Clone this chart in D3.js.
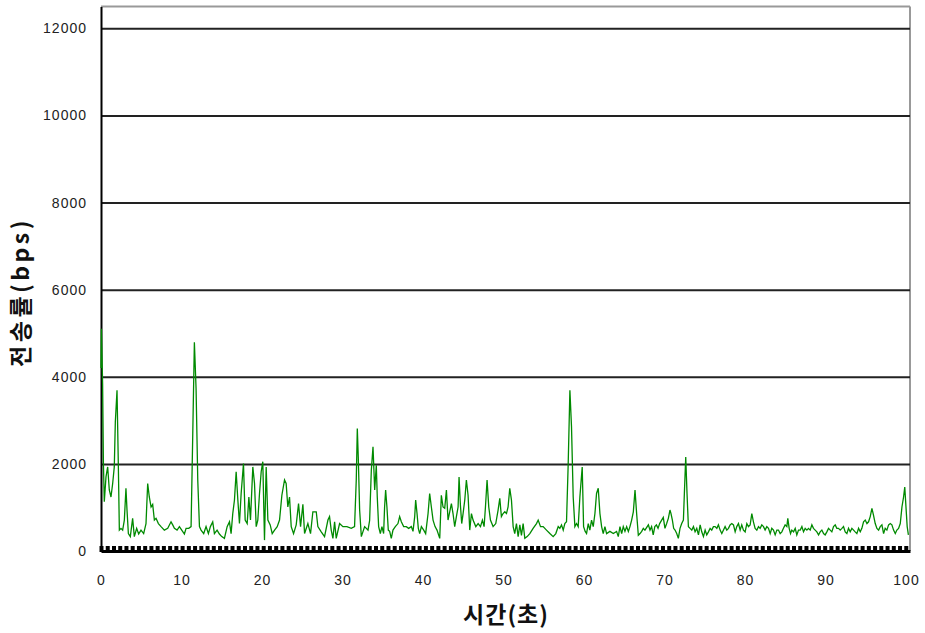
<!DOCTYPE html>
<html>
<head>
<meta charset="utf-8">
<script src="https://cdnjs.cloudflare.com/ajax/libs/d3/7.8.5/d3.min.js"></script>
<style>
  body { margin: 0; background: #fff; }
  .tickText { font-family: "Liberation Sans", Arial, sans-serif; font-size: 14px; fill: #222; letter-spacing: 1px; }
  .axisText { font-family: "Noto Sans CJK KR", sans-serif; font-weight: bold; fill: #111; }
</style>
</head>
<body>
<div id="chart"></div>
<script>
// time (s) and transfer rate (bps)
var seconds = [
  0, 0.05, 0.2, 0.3, 0.41, 0.62, 0.83, 1.03, 1.24, 1.45, 1.65, 1.78, 1.99, 2.15, 2.28, 2.48, 2.69, 2.9, 3.1, 3.23,
  3.4, 3.64, 3.93, 4.14, 4.43, 4.68, 4.97, 5.3, 5.59, 5.8, 6.0, 6.22, 6.42, 6.63, 6.84, 7.13, 7.46, 7.87, 8.29, 8.7,
  8.91, 9.12, 9.45, 9.74, 10.03, 10.36, 10.57, 10.9, 11.19, 11.4, 11.6, 11.81, 12.02, 12.23, 12.43, 12.76, 13.05, 13.34, 13.59, 13.88,
  14.09, 14.42, 14.71, 15.0, 15.33, 15.67, 15.96, 16.16, 16.37, 16.58, 16.79, 17.0, 17.2, 17.41, 17.7, 17.91, 18.16, 18.37, 18.57, 18.86,
  19.07, 19.28, 19.48, 19.69, 19.9, 20.1, 20.31, 20.52, 20.73, 21.02, 21.27, 21.56, 21.89, 22.18, 22.47, 22.8, 23.0, 23.21, 23.42, 23.63,
  23.92, 24.25, 24.54, 24.79, 25.08, 25.29, 25.7, 26.03, 26.32, 26.74, 26.94, 27.36, 27.77, 28.19, 28.39, 28.6, 28.81, 29.02, 29.22, 29.64,
  30.05, 30.55, 31.09, 31.5, 31.71, 31.84, 31.96, 32.13, 32.34, 32.75, 33.17, 33.37, 33.58, 33.79, 34.0, 34.2, 34.32, 34.49, 34.7, 34.9,
  35.11, 35.23, 35.36, 35.52, 35.69, 35.86, 36.06, 36.27, 36.56, 36.89, 37.1, 37.31, 37.6, 37.93, 38.22, 38.55, 38.76, 38.97, 39.09, 39.26,
  39.42, 39.59, 39.8, 40.09, 40.33, 40.63, 40.83, 41.04, 41.25, 41.5, 41.74, 42.08, 42.28, 42.49, 42.7, 42.91, 43.11, 43.32, 43.53, 43.73,
  43.94, 44.15, 44.36, 44.48, 44.65, 44.81, 44.98, 45.19, 45.39, 45.6, 45.81, 46.02, 46.22, 46.56, 46.85, 47.14, 47.38, 47.59, 47.76, 47.96,
  48.17, 48.38, 48.71, 49.04, 49.33, 49.54, 49.74, 49.95, 50.16, 50.37, 50.57, 50.78, 50.99, 51.2, 51.4, 51.61, 51.82, 52.03, 52.23, 52.44,
  52.65, 52.94, 53.27, 53.68, 54.1, 54.31, 54.6, 54.93, 55.34, 55.76, 56.17, 56.5, 56.8, 57.0, 57.21, 57.42, 57.62, 57.83, 58.04, 58.25,
  58.45, 58.66, 58.87, 59.07, 59.28, 59.49, 59.78, 59.95, 60.15, 60.32, 60.53, 60.73, 60.94, 61.15, 61.36, 61.56, 61.77, 61.98, 62.19, 62.39,
  62.6, 62.81, 63.22, 63.64, 64.05, 64.26, 64.47, 64.68, 64.88, 65.09, 65.3, 65.51, 65.71, 65.92, 66.13, 66.34, 66.54, 66.75, 66.96, 67.17,
  67.37, 67.57, 68.0, 68.2, 68.4, 68.6, 68.8, 69.0, 69.2, 69.4, 69.65, 69.85, 70.06, 70.27, 70.48, 70.68, 70.81, 70.98, 71.14, 71.31,
  71.52, 71.72, 71.93, 72.14, 72.35, 72.47, 72.64, 72.8, 72.97, 73.18, 73.39, 73.6, 73.8, 74.01, 74.22, 74.43, 74.63, 74.84, 75.05, 75.25,
  75.46, 75.67, 75.87, 76.08, 76.29, 76.5, 76.7, 76.91, 77.12, 77.33, 77.53, 77.74, 77.95, 78.15, 78.36, 78.57, 78.78, 78.98, 79.19, 79.4,
  79.6, 79.81, 80.02, 80.23, 80.43, 80.64, 80.85, 81.05, 81.26, 81.47, 81.68, 81.88, 82.09, 82.3, 82.5, 82.71, 82.92, 83.13, 83.33, 83.54,
  83.75, 83.96, 84.16, 84.37, 84.58, 84.78, 84.99, 85.2, 85.32, 85.49, 85.66, 85.82, 86.03, 86.24, 86.44, 86.65, 86.86, 87.07, 87.27, 87.48,
  87.69, 87.89, 88.1, 88.31, 88.51, 88.72, 88.93, 89.14, 89.34, 89.55, 89.76, 89.96, 90.17, 90.38, 90.59, 90.79, 91.0, 91.21, 91.41, 91.62,
  91.83, 92.04, 92.24, 92.45, 92.66, 92.86, 93.07, 93.28, 93.49, 93.69, 93.9, 94.11, 94.32, 94.52, 94.73, 94.94, 95.15, 95.35, 95.56, 95.77,
  95.97, 96.18, 96.39, 96.6, 96.8, 97.01, 97.22, 97.42, 97.63, 97.84, 98.05, 98.25, 98.46, 98.67, 98.87, 99.08, 99.29, 99.5, 99.7, 99.85,
  100.0, 100.15, 100.3
];

var bps = [
  4200, 5100, 3840, 2010, 1130, 1700, 1930, 1400, 1240, 1550, 1930, 2960, 3690, 2010, 480, 520, 480, 710, 1440, 940,
  400, 330, 750, 330, 520, 390, 480, 400, 630, 1550, 1240, 1010, 1070, 710, 750, 630, 560, 480, 520, 670,
  600, 520, 480, 560, 480, 390, 520, 520, 560, 2690, 4790, 3730, 1630, 560, 480, 400, 560, 400, 560, 670,
  400, 480, 390, 330, 290, 560, 670, 400, 860, 1170, 1820, 1170, 630, 1320, 2010, 710, 630, 1240, 710, 1930,
  1550, 560, 710, 1320, 1820, 2050, 250, 1930, 710, 600, 400, 480, 560, 710, 1280, 1630, 1550, 1010, 1240, 560,
  400, 600, 1090, 560, 1070, 400, 630, 400, 900, 900, 560, 440, 330, 710, 790, 480, 290, 670, 290, 630,
  560, 560, 520, 560, 1630, 2810, 2160, 940, 330, 560, 480, 700, 1850, 2390, 1400, 1970, 1240, 560, 400, 560,
  400, 1010, 1400, 1010, 480, 450, 290, 480, 560, 630, 790, 670, 560, 560, 520, 560, 450, 790, 1170, 860,
  520, 400, 560, 480, 400, 860, 1320, 1010, 710, 560, 480, 290, 1280, 1010, 980, 1400, 710, 900, 1090, 860,
  560, 790, 1010, 1700, 1050, 630, 860, 1170, 1630, 1280, 480, 860, 710, 560, 630, 560, 710, 560, 1010, 1630,
  1010, 710, 560, 630, 940, 1210, 790, 860, 900, 860, 1010, 1440, 1170, 560, 400, 630, 330, 600, 360, 630,
  290, 330, 400, 520, 630, 710, 560, 560, 480, 400, 330, 400, 560, 520, 600, 480, 630, 670, 2010, 3690,
  2850, 1240, 560, 630, 560, 1240, 1930, 560, 450, 400, 630, 480, 710, 560, 860, 1320, 1440, 860, 560, 400,
  560, 400, 450, 400, 450, 330, 560, 400, 560, 450, 560, 450, 560, 710, 900, 1400, 860, 360, 400, 450,
  520, 480, 600, 480, 560, 370, 560, 600, 520, 630, 710, 770, 520, 630, 750, 940, 860, 710, 520, 480,
  400, 290, 520, 630, 710, 1320, 2160, 1320, 560, 520, 480, 560, 440, 520, 370, 600, 440, 330, 480, 370,
  440, 520, 480, 560, 560, 520, 600, 480, 400, 480, 560, 480, 520, 600, 630, 600, 440, 560, 630, 480,
  600, 480, 440, 630, 560, 600, 860, 670, 520, 480, 560, 520, 600, 560, 480, 560, 520, 400, 520, 480,
  370, 480, 480, 400, 440, 520, 600, 560, 750, 520, 400, 480, 440, 520, 370, 480, 480, 560, 440, 520,
  480, 520, 480, 600, 520, 480, 440, 370, 440, 480, 400, 370, 440, 520, 480, 440, 560, 600, 520, 520,
  480, 520, 560, 440, 400, 520, 440, 520, 480, 440, 400, 520, 440, 520, 670, 710, 630, 670, 790, 980,
  820, 630, 520, 480, 560, 600, 400, 520, 480, 600, 630, 600, 480, 400, 480, 520, 630, 1010, 1240, 1470,
  1010, 560, 370
];

var yTicks = [0, 2000, 4000, 6000, 8000, 10000, 12000];
var xLabels = [0, 10, 20, 30, 40, 50, 60, 70, 80, 90, 100];

var svgWidth = 925;
var svgHeight = 633;

var margin = {
  top: 6.5,
  right: 15,
  bottom: 82,
  left: 101
};

var width = svgWidth - margin.left - margin.right;
var height = svgHeight - margin.top - margin.bottom;

var svg = d3.select("#chart")
  .append("svg")
  .attr("width", svgWidth)
  .attr("height", svgHeight);

var chartGroup = svg.append("g")
  .attr("transform", `translate(${margin.left}, ${margin.top})`);

var data = seconds.map(function (s, i) {
  return { t: s, v: bps[i] };
});

// scales
var xScale = d3.scaleLinear()
  .domain([0, 100.5])
  .range([0, width]);

var yScale = d3.scaleLinear()
  .domain([0, 12500])
  .range([height, 0]);

// frame (top and right in gray)
chartGroup.append("line")
  .attr("x1", 0).attr("x2", width)
  .attr("y1", 0).attr("y2", 0)
  .attr("stroke", "#999").attr("stroke-width", 2);
chartGroup.append("line")
  .attr("x1", width).attr("x2", width)
  .attr("y1", 0).attr("y2", height)
  .attr("stroke", "#999").attr("stroke-width", 2);

// gridlines
chartGroup.append("g")
  .call(d3.axisLeft(yScale).tickValues(yTicks.slice(1)).tickSize(-width).tickFormat(""))
  .call(g => g.select(".domain").remove())
  .selectAll("line")
  .attr("stroke", "#222")
  .attr("stroke-width", 2);

// left axis line + labels
var leftAxis = chartGroup.append("g")
  .call(d3.axisLeft(yScale).tickValues(yTicks).tickSize(0).tickPadding(14).tickFormat(d3.format("d")));
leftAxis.select(".domain")
  .attr("stroke", "#000")
  .attr("stroke-width", 2);
leftAxis.selectAll("text")
  .attr("class", "tickText")
  .style("font-size", null);

// line
var line = d3.line()
  .x(d => xScale(d.t))
  .y(d => yScale(d.v));

chartGroup.append("path")
  .datum(data)
  .attr("fill", "none")
  .attr("stroke", "#008a00")
  .attr("stroke-width", 1.3)
  .attr("d", line);

// bottom axis: dense inward ticks
var tickSecs = d3.range(0, 100.5, 0.775);
var bottomAxis = chartGroup.append("g")
  .attr("transform", `translate(0, ${height})`)
  .call(d3.axisBottom(xScale).tickValues(tickSecs).tickSizeInner(-5).tickSizeOuter(0).tickFormat(""));
bottomAxis.select(".domain")
  .attr("stroke", "#000")
  .attr("stroke-width", 3);
bottomAxis.selectAll(".tick line")
  .attr("stroke", "#000")
  .attr("stroke-width", 4)
  .attr("y1", 1);

// x labels
var labelAxis = chartGroup.append("g")
  .attr("transform", `translate(0, ${height})`)
  .call(d3.axisBottom(xScale).tickValues(xLabels).tickSize(0).tickPadding(24));
labelAxis.select(".domain").remove();
labelAxis.selectAll("text")
  .attr("class", "tickText")
  .style("font-size", null);

// axis titles
chartGroup.append("text")
  .attr("class", "axisText")
  .attr("text-anchor", "middle")
  .attr("x", 405)
  .attr("y", height + 72)
  .style("font-size", "23px")
  .style("letter-spacing", "1px")
  .text("시간(초)");

chartGroup.append("text")
  .attr("class", "axisText")
  .attr("text-anchor", "middle")
  .attr("transform", `translate(-72, ${292 - margin.top}) rotate(-90)`)
  .style("font-size", "23px")
  .style("letter-spacing", "3.5px")
  .text("전송률(bps)");
</script>
</body>
</html>
